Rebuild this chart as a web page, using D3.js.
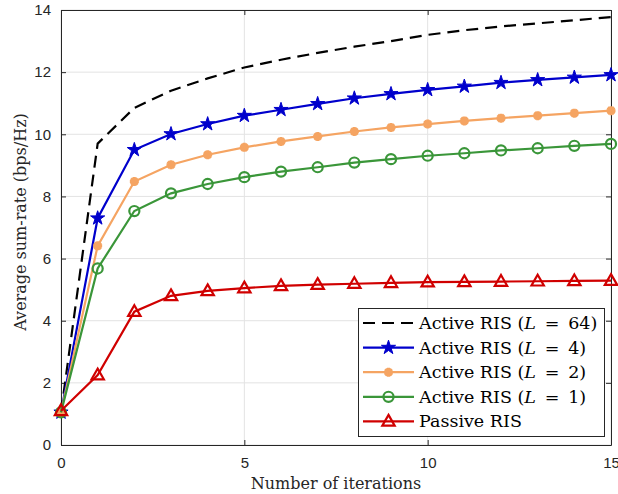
<!DOCTYPE html>
<html>
<head>
<meta charset="utf-8">
<script src="https://cdn.jsdelivr.net/npm/d3@7"></script>
<style>
  body { margin: 0; background: #fff; }
  svg { display: block; }
</style>
</head>
<body>
<svg id="chart" width="618" height="494"></svg>
<script>
// iterations on the x axis
const iterations = [0, 1, 2, 3, 4, 5, 6, 7, 8, 9, 10, 11, 12, 13, 14, 15];

// sum-rate values
const active64 = [1.05, 9.7, 10.85, 11.4, 11.8, 12.15, 12.4, 12.62, 12.82, 13.0, 13.2, 13.35, 13.47, 13.57, 13.67, 13.77];
const active4 = [1.05, 7.3, 9.5, 10.01, 10.33, 10.6, 10.79, 10.98, 11.16, 11.3, 11.43, 11.54, 11.66, 11.75, 11.83, 11.91];
const active2 = [1.05, 6.41, 8.48, 9.02, 9.34, 9.58, 9.77, 9.93, 10.09, 10.22, 10.33, 10.43, 10.52, 10.6, 10.68, 10.76];
const active1 = [1.05, 5.68, 7.53, 8.1, 8.4, 8.62, 8.8, 8.94, 9.09, 9.2, 9.31, 9.39, 9.48, 9.55, 9.63, 9.69];
const passive = [1.1, 2.25, 4.29, 4.8, 4.96, 5.05, 5.12, 5.16, 5.19, 5.22, 5.24, 5.25, 5.26, 5.27, 5.28, 5.29];

const xTicks = [0, 5, 10, 15];
const yTicks = [0, 2, 4, 6, 8, 10, 12, 14];

const series = [
    { name: "64", values: active64, color: "#000000", dash: "12,7", marker: null },
    { name: "4", values: active4, color: "#0000cc", dash: null, marker: "star" },
    { name: "2", values: active2, color: "#f5a462", dash: null, marker: "asterisk" },
    { name: "1", values: active1, color: "#3a9639", dash: null, marker: "circle" },
    { name: "passive", values: passive, color: "#d00000", dash: null, marker: "triangle" }
];

const svg = d3.select("#chart");
const plotLeft = 61, plotRight = 611, plotTop = 10, plotBottom = 445;

const x = d3.scaleLinear().domain([0, 15]).range([plotLeft, plotRight]);
const y = d3.scaleLinear().domain([0, 14]).range([plotBottom, plotTop]);

const sansFont = "'Liberation Sans', Arial, sans-serif";
const serifFont = "'DejaVu Serif', 'Liberation Serif', serif";

// grid
svg.append("g")
    .selectAll("line")
    .data(yTicks)
    .enter().append("line")
    .attr("x1", plotLeft).attr("x2", plotRight)
    .attr("y1", d => y(d)).attr("y2", d => y(d))
    .attr("stroke", "#e3e3e3").attr("stroke-width", 1);

svg.append("g")
    .selectAll("line")
    .data(xTicks)
    .enter().append("line")
    .attr("x1", d => x(d)).attr("x2", d => x(d))
    .attr("y1", plotTop).attr("y2", plotBottom)
    .attr("stroke", "#e3e3e3").attr("stroke-width", 1);

// axes (ticks point inwards like MATLAB)
function styleAxis(g) {
    g.select(".domain").attr("stroke", "#262626").attr("stroke-width", 1);
    g.selectAll(".tick line").attr("stroke", "#262626");
    g.selectAll(".tick text").attr("fill", "#262626")
        .style("font-family", sansFont).style("font-size", "15px");
}

svg.append("g")
    .attr("transform", `translate(0,${plotBottom})`)
    .call(d3.axisBottom(x).tickValues(xTicks).tickSizeInner(-5).tickSizeOuter(0).tickPadding(12))
    .call(styleAxis);

svg.append("g")
    .attr("transform", `translate(${plotLeft},0)`)
    .call(d3.axisLeft(y).tickValues(yTicks).tickSizeInner(-5).tickSizeOuter(0).tickPadding(10))
    .call(styleAxis);

svg.append("g")
    .attr("transform", `translate(0,${plotTop})`)
    .call(d3.axisTop(x).tickValues(xTicks).tickSizeInner(-5).tickSizeOuter(0).tickFormat(""))
    .call(styleAxis);

svg.append("g")
    .attr("transform", `translate(${plotRight},0)`)
    .call(d3.axisRight(y).tickValues(yTicks).tickSizeInner(-5).tickSizeOuter(0).tickFormat(""))
    .call(styleAxis);

// markers
function markerPath(type) {
    if (type === "star") return d3.symbol(d3.symbolStar, 62)();
    if (type === "circle") return d3.symbol(d3.symbolCircle, 80)();
    if (type === "triangle") {
        const r = 6.5;
        return `M0,${-r}L${r * 0.95},${r * 0.65}L${-r * 0.95},${r * 0.65}Z`;
    }
    if (type === "asterisk") {
        const r = 4.5, d = r * 0.72;
        return `M${-r},0L${r},0M0,${-r}L0,${r}M${-d},${-d}L${d},${d}M${-d},${d}L${d},${-d}`;
    }
    return "";
}

function drawMarker(g, type, color) {
    const p = g.append("path").attr("d", markerPath(type));
    if (type === "star") p.attr("fill", color).attr("stroke", color).attr("stroke-width", 1);
    else if (type === "asterisk") p.attr("fill", "none").attr("stroke", color).attr("stroke-width", 3);
    else p.attr("fill", "none").attr("stroke", color).attr("stroke-width", 2.2);
}

const line = d3.line()
    .x((d, i) => x(iterations[i]))
    .y(d => y(d));

series.forEach(s => {
    const g = svg.append("g");
    g.append("path")
        .datum(s.values)
        .attr("fill", "none")
        .attr("stroke", s.color)
        .attr("stroke-width", 2.2)
        .attr("stroke-dasharray", s.dash)
        .attr("d", line);
    if (s.marker) {
        g.selectAll("g")
            .data(s.values)
            .enter().append("g")
            .attr("transform", (d, i) => `translate(${x(iterations[i])},${y(d)})`)
            .each(function() { drawMarker(d3.select(this), s.marker, s.color); });
    }
});

// axis labels
svg.append("text")
    .attr("x", (plotLeft + plotRight) / 2)
    .attr("y", 489)
    .attr("text-anchor", "middle")
    .attr("fill", "#262626")
    .style("font-family", serifFont).style("font-size", "16px")
    .text("Number of iterations");

svg.append("text")
    .attr("transform", `translate(26,222) rotate(-90)`)
    .attr("text-anchor", "middle")
    .attr("fill", "#262626")
    .style("font-family", serifFont).style("font-size", "16px")
    .text("Average sum-rate (bps/Hz)");

// legend
const legend = svg.append("g");
legend.append("rect")
    .attr("x", 358.5).attr("y", 308.5)
    .attr("width", 246).attr("height", 128)
    .attr("fill", "#fff").attr("stroke", "#262626").attr("stroke-width", 1);

series.forEach((s, i) => {
    const ly = 323 + i * 24.6;
    const row = legend.append("g");
    row.append("line")
        .attr("x1", 363).attr("x2", 414)
        .attr("y1", ly).attr("y2", ly)
        .attr("stroke", s.color).attr("stroke-width", 2.2)
        .attr("stroke-dasharray", s.dash);
    if (s.marker) {
        const m = row.append("g").attr("transform", `translate(388.5,${ly})`);
        drawMarker(m, s.marker, s.color);
    }
    const t = row.append("text")
        .attr("x", 419).attr("y", ly + 6)
        .attr("fill", "#000")
        .style("font-family", serifFont).style("font-size", "17.5px");
    if (s.name === "passive") {
        t.text("Passive RIS");
    } else {
        t.append("tspan").text("Active RIS (");
        t.append("tspan").style("font-style", "italic").text("L");
        t.append("tspan").text("\u2002=\u2002" + s.name + ")");
    }
});
</script>
</body>
</html>
